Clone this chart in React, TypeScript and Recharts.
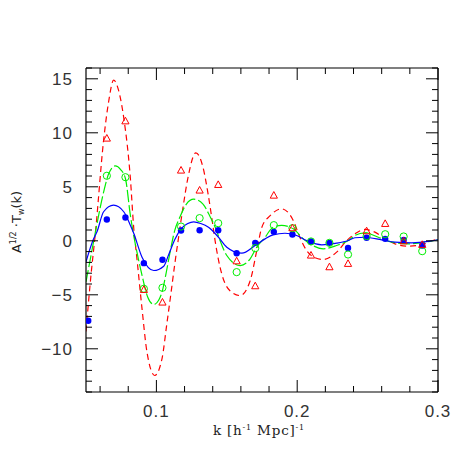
import React from 'react';
import { ComposedChart, Line, Scatter, XAxis, YAxis } from 'recharts';

const redK = [0.05, 0.0533, 0.0568, 0.0625, 0.0661, 0.0696, 0.0732, 0.0768, 0.0815, 0.0839, 0.0862, 0.0898, 0.0933, 0.0988, 0.104, 0.1073, 0.1107, 0.113, 0.1154, 0.1189, 0.1225, 0.128, 0.1331, 0.1367, 0.1403, 0.1417, 0.1464, 0.1521, 0.1595, 0.1666, 0.1713, 0.1749, 0.1806, 0.1889, 0.1972, 0.2019, 0.2067, 0.2116, 0.2185, 0.228, 0.2351, 0.241, 0.2481, 0.2552, 0.2623, 0.2695, 0.2789, 0.2885, 0.298, 0.3];
const redV = [-8.4, -3.5, 0.9, 9.3, 12.9, 14.87, 13.9, 11.4, 5.8, 1.2, -1.67, -6.3, -10.3, -12.47, -10.9, -7.8, -4.5, -2.2, 0, 3.1, 5.9, 8.15, 6.8, 4.35, 1.26, 0, -3.06, -4.6, -5.07, -3.7, -0.9, 1.26, 2.3, 2.96, 1.88, 0.33, -0.9, -1.5, -1.73, -1.05, 0, 0.65, 1.05, 0.8, 0.19, -0.28, -0.5, -0.34, 0.1, 0.15];

const greenK = [0.05, 0.0531, 0.0568, 0.0625, 0.0661, 0.0708, 0.0746, 0.078, 0.0815, 0.0834, 0.0862, 0.0898, 0.0938, 0.0981, 0.1016, 0.1045, 0.1066, 0.1095, 0.113, 0.1167, 0.1213, 0.1265, 0.1331, 0.1379, 0.1427, 0.1452, 0.15, 0.1595, 0.1666, 0.1713, 0.1772, 0.1829, 0.1889, 0.1972, 0.2043, 0.209, 0.2185, 0.228, 0.2363, 0.241, 0.2481, 0.2576, 0.2671, 0.2789, 0.2908, 0.3];
const greenV = [-3.8, -1.67, 0.9, 4.5, 6.2, 6.94, 6.6, 5.77, 2.37, 0.83, -1.05, -3.2, -5.2, -5.9, -5.5, -4.5, -3.2, -1.2, 0.95, 2.2, 3.4, 3.85, 3.4, 2.3, 0.95, 0.03, -1.36, -2.29, -1.67, -0.59, 0.33, 1.26, 1.42, 1.11, 0.18, -0.28, -0.74, -0.43, 0.03, 0.49, 0.74, 0.33, -0.13, -0.28, -0.13, 0.1];

const blueK = [0.05, 0.0554, 0.0578, 0.0625, 0.0696, 0.0768, 0.0815, 0.0839, 0.0898, 0.0981, 0.1052, 0.1087, 0.113, 0.1178, 0.1223, 0.1265, 0.1315, 0.137, 0.1441, 0.15, 0.1607, 0.1701, 0.1772, 0.1829, 0.1913, 0.1996, 0.2067, 0.2174, 0.228, 0.2363, 0.241, 0.2481, 0.26, 0.2695, 0.2814, 0.2932, 0.3];
const blueV = [-1.95, 0.18, 0.83, 2.69, 3.3, 2.69, 1.45, 0.7, -1.52, -2.75, -2.35, -1.3, 0.1, 1.15, 1.6, 1.75, 1.6, 1.26, 0.33, -0.59, -1.15, -0.43, 0.18, 0.55, 0.7, 0.49, 0.03, -0.37, -0.22, 0.03, 0.28, 0.33, 0.09, -0.13, -0.19, -0.06, 0.1];

// measured points
const pointK = [0.0516, 0.0648, 0.078, 0.0911, 0.1043, 0.1175, 0.1307, 0.1439, 0.157, 0.1702, 0.1834, 0.1966, 0.2098, 0.2229, 0.2361, 0.2493, 0.2625, 0.2756, 0.2888];
const bluePts = [-7.4, 1.97, 2.16, -2.07, -1.76, 0.95, 0.98, 0.98, -1.15, -0.19, 0.83, 0.58, -0.06, -0.19, -0.67, 0.28, 0.18, 0.09, -0.43];
const greenPts = [null, 6.02, 5.89, -4.44, -4.35, 1.32, 2.1, 1.63, -2.9, -0.68, 1.45, 1.17, -0.06, -0.19, -1.27, 0.43, 0.61, 0.4, -0.96];
const redPts = [null, 9.47, 11.07, -4.54, -5.71, 6.51, 4.66, 5.18, -1.89, -4.2, 4.19, 1.17, -1.36, -2.44, -2.13, 0.89, 1.57, -0.04, -0.37];

const xTicks = [0.06, 0.08, 0.1, 0.12, 0.14, 0.16, 0.18, 0.2, 0.22, 0.24, 0.26, 0.28, 0.3];
const yTicks = [-14, -13, -12, -11, -10, -9, -8, -7, -6, -5, -4, -3, -2, -1, 0, 1, 2, 3, 4, 5, 6, 7, 8, 9, 10, 11, 12, 13, 14, 15, 16];

const zip = (ks: number[], vs: (number | null)[]) =>
  ks.map((k, i) => ({ k, v: vs[i] })).filter(d => d.v !== null);

const redLine = zip(redK, redV);
const greenLine = zip(greenK, greenV);
const blueLine = zip(blueK, blueV);
const blueData = zip(pointK, bluePts);
const greenData = zip(pointK, greenPts);
const redData = zip(pointK, redPts);

const FONT = '"Liberation Sans", "DejaVu Sans", sans-serif';
const isMajorX = (v: number) => Math.abs(v * 10 - Math.round(v * 10)) < 1e-6;
const isMajorY = (v: number) => v % 5 === 0;
const fmt = (v: number) => (v < 0 ? '\u2212' + Math.abs(v) : String(v));

const BottomTick = ({ x, y, payload }: any) => {
  const major = isMajorX(payload.value);
  return (
    <g>
      <line x1={x} x2={x} y1={y} y2={y - (major ? 12 : 6)} stroke="#000" />
      {major && (
        <text x={x} y={y + 25} textAnchor="middle" fontSize={17} letterSpacing={1} fontFamily={FONT} fill="#333">
          {payload.value}
        </text>
      )}
    </g>
  );
};

const TopTick = ({ x, y, payload }: any) => (
  <line x1={x} x2={x} y1={y} y2={y + (isMajorX(payload.value) ? 12 : 6)} stroke="#000" />
);

const LeftTick = ({ x, y, payload }: any) => {
  const major = isMajorY(payload.value);
  return (
    <g>
      <line x1={x} x2={x + (major ? 12 : 6)} y1={y} y2={y} stroke="#000" />
      {major && (
        <text x={x - 13} y={y} dy="0.36em" textAnchor="end" fontSize={17} letterSpacing={1} fontFamily={FONT} fill="#333">
          {fmt(payload.value)}
        </text>
      )}
    </g>
  );
};

const RightTick = ({ x, y, payload }: any) => (
  <line x1={x} x2={x - (isMajorY(payload.value) ? 12 : 6)} y1={y} y2={y} stroke="#000" />
);

const XTitle = ({ viewBox }: any) => (
  <text
    x={viewBox.x + viewBox.width / 2 - 3}
    y={viewBox.y + 43}
    textAnchor="middle"
    fontSize={13.5}
    letterSpacing={0.8}
    fontFamily='"DejaVu Serif", serif'
    fill="#222"
  >
    k [h<tspan fontSize={8} dy={-5}>-1</tspan>
    <tspan dy={5}> Mpc]</tspan>
    <tspan fontSize={8} dy={-5}>-1</tspan>
  </text>
);

const YTitle = ({ viewBox }: any) => {
  const cx = 13;
  const cy = viewBox.y + viewBox.height / 2 - 8;
  return (
    <text
      x={cx}
      y={cy}
      transform={`rotate(-90 ${cx} ${cy})`}
      textAnchor="middle"
      fontSize={13}
      fontFamily='"DejaVu Sans", sans-serif'
      fill="#222"
    >
      A<tspan fontSize={8} dy={-5}>1/2</tspan>
      <tspan dy={5}> ·T</tspan>
      <tspan fontSize={8} dy={3}>w</tspan>
      <tspan dy={-3}>(k)</tspan>
    </text>
  );
};

const Triangle = ({ cx, cy }: any) => (
  <polygon
    points={`${cx},${cy - 4} ${cx - 3.6},${cy + 2.6} ${cx + 3.6},${cy + 2.6}`}
    fill="none"
    stroke="#ff0000"
    strokeWidth={1}
  />
);
const OpenCircle = ({ cx, cy }: any) => (
  <circle cx={cx} cy={cy} r={3.6} fill="none" stroke="#00ee00" strokeWidth={1} />
);
const Dot = ({ cx, cy }: any) => <circle cx={cx} cy={cy} r={3.2} fill="#0000ff" />;

export default function App() {
  return (
    <ComposedChart width={447} height={447} margin={{ top: 59, right: 16, bottom: 62, left: 77 }}>
      <XAxis
        type="number"
        dataKey="k"
        domain={[0.05, 0.3]}
        allowDataOverflow
        ticks={xTicks}
        interval={0}
        height={1}
        tickSize={0}
        tickMargin={0}
        tickLine={false}
        tick={BottomTick}
        axisLine={{ stroke: '#000', strokeWidth: 1.2 }}
        label={{ content: XTitle }}
      />
      <XAxis
        xAxisId="top"
        orientation="top"
        type="number"
        dataKey="k"
        domain={[0.05, 0.3]}
        allowDataOverflow
        ticks={xTicks}
        interval={0}
        height={1}
        tickSize={0}
        tickMargin={0}
        tickLine={false}
        tick={TopTick}
        axisLine={{ stroke: '#000', strokeWidth: 1.2 }}
      />
      <YAxis
        type="number"
        domain={[-14, 16]}
        allowDataOverflow
        ticks={yTicks}
        interval={0}
        width={1}
        tickSize={0}
        tickMargin={0}
        tickLine={false}
        tick={LeftTick}
        axisLine={{ stroke: '#000', strokeWidth: 1.2 }}
        label={{ content: YTitle }}
      />
      <YAxis
        yAxisId="right"
        orientation="right"
        type="number"
        domain={[-14, 16]}
        allowDataOverflow
        ticks={yTicks}
        interval={0}
        width={1}
        tickSize={0}
        tickMargin={0}
        tickLine={false}
        tick={RightTick}
        axisLine={{ stroke: '#000', strokeWidth: 1.2 }}
      />
      <Line data={redLine} dataKey="v" type="monotone" stroke="#ff0000" strokeWidth={1.2} strokeDasharray="6 4" dot={false} isAnimationActive={false} />
      <Line data={greenLine} dataKey="v" type="monotone" stroke="#00ee00" strokeWidth={1.2} strokeDasharray="12 3" dot={false} isAnimationActive={false} />
      <Line data={blueLine} dataKey="v" type="monotone" stroke="#0000ff" strokeWidth={1.2} dot={false} isAnimationActive={false} />
      <Scatter data={blueData} dataKey="v" shape={Dot} isAnimationActive={false} />
      <Scatter data={greenData} dataKey="v" shape={OpenCircle} isAnimationActive={false} />
      <Scatter data={redData} dataKey="v" shape={Triangle} isAnimationActive={false} />
    </ComposedChart>
  );
}
